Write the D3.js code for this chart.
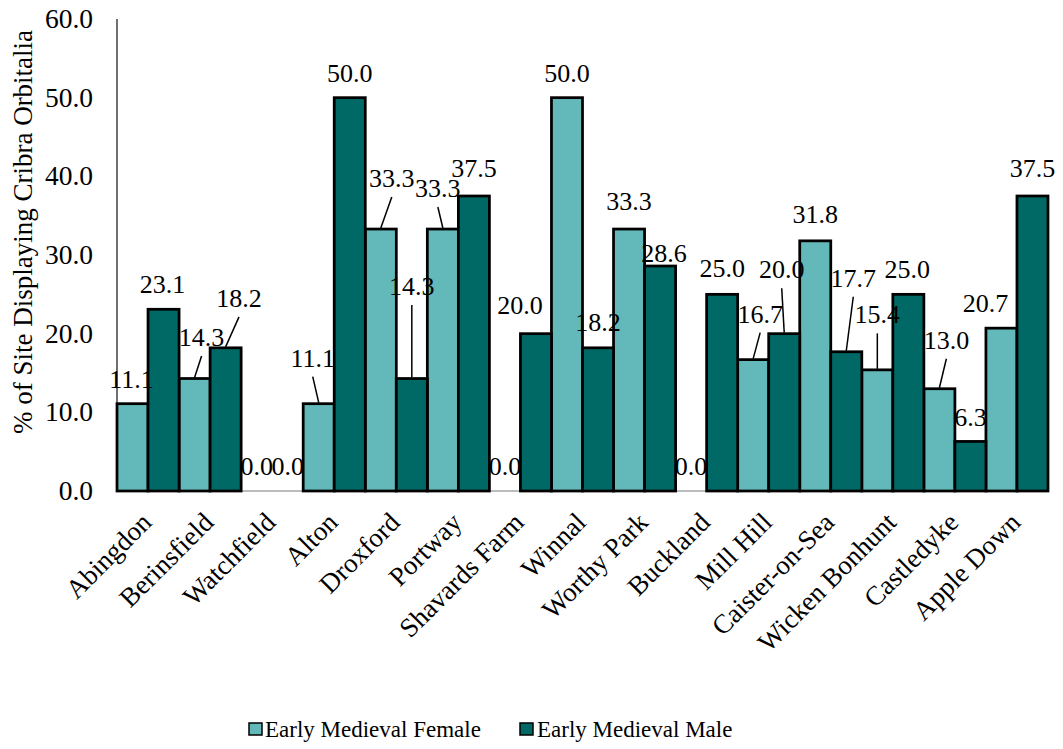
<!DOCTYPE html>
<html>
<head>
<meta charset="utf-8">
<script src="https://cdn.jsdelivr.net/npm/d3@7"></script>
<style>
  html, body { margin: 0; padding: 0; background: #ffffff; }
  svg { display: block; }
  text { font-family: "Liberation Serif", "Times New Roman", serif; fill: #000; }
</style>
</head>
<body>
<svg id="chart" width="1063" height="749" font-family="Liberation Serif, Times New Roman, serif"></svg>
<script>
// ---- data ----
const categories = ["Abingdon", "Berinsfield", "Watchfield", "Alton", "Droxford", "Portway",
  "Shavards Farm", "Winnal", "Worthy Park", "Buckland", "Mill Hill", "Caister-on-Sea",
  "Wicken Bonhunt", "Castledyke", "Apple Down"];
const femaleValues = [11.1, 14.3, 0.0, 11.1, 33.3, 33.3, 0.0, 50.0, 33.3, 0.0, 16.7, 31.8, 15.4, 13.0, 20.7];
const maleValues   = [23.1, 18.2, 0.0, 50.0, 14.3, 37.5, 20.0, 18.2, 28.6, 25.0, 20.0, 17.7, 25.0, 6.3, 37.5];
const seriesNames = ["Early Medieval Female", "Early Medieval Male"];
const yTicks = [0, 10, 20, 30, 40, 50, 60];
const yTitle = "% of Site Displaying Cribra Orbitalia";

// ---- label layout (nudges from default outside-end position, px) ----
const femaleNudge = [[-1,0],[7,-16.5],[0,0],[-6,-21],[11,-26],[-5,-16],[0,0],[0,0],[0,-3],[0,0],[7,-21],[0,-1.5],[0,-30.5],[7,-24],[-16,0]];
const femaleLeader = [0,1,0,1,1,1,0,0,0,0,1,0,1,1,0];
const maleNudge = [[-1,0],[13.4,-25],[0,0],[0,0],[0,-67.5],[0,-3],[-16,-3.7],[0,-1],[4,11.7],[0,-1],[-2.5,-39.4],[7,-49],[-1,0],[0,1],[0,-3]];
const maleLeader = [0,1,0,0,1,0,0,0,0,0,1,1,0,0,0];

const colors = ["#63b8b9", "#006966"];

(function () {
const svg = d3.select("#chart");
const plotLeft = 117, plotRight = 1048, plotTop = 19, plotBottom = 491;

const x = d3.scaleBand().domain(categories).range([plotLeft, plotRight]).paddingInner(0).paddingOuter(0);
const xs = d3.scaleBand().domain(seriesNames).range([0, x.bandwidth()]).padding(0);
const y = d3.scaleLinear().domain([0, 60]).range([plotBottom, plotTop]);

// x baseline (gray)
svg.append("line").attr("x1", plotLeft).attr("x2", plotRight).attr("y1", y(0)).attr("y2", y(0))
  .attr("stroke", "#a6a6a6").attr("stroke-width", 1.5);

// y axis line
svg.append("line").attr("x1", plotLeft).attr("x2", plotLeft).attr("y1", y(60)).attr("y2", y(0))
  .attr("stroke", "#404040").attr("stroke-width", 1.5);

// y tick labels
svg.append("g").selectAll("text").data(yTicks).join("text")
  .attr("x", 93).attr("y", d => y(d)).attr("dy", "0.33em")
  .attr("text-anchor", "end").style("font-size", "27.5px")
  .text(d => d.toFixed(1));

// y title
svg.append("text")
  .attr("transform", `translate(32, 232) rotate(-90)`)
  .attr("text-anchor", "middle").style("font-size", "27px")
  .text(yTitle);

const series = [
  { name: seriesNames[0], values: femaleValues, nudge: femaleNudge, leader: femaleLeader, color: colors[0] },
  { name: seriesNames[1], values: maleValues, nudge: maleNudge, leader: maleLeader, color: colors[1] }
];

// bars
const barG = svg.append("g");
series.forEach(s => {
  barG.append("g").selectAll("rect")
    .data(categories.map((c, i) => ({ c, v: s.values[i] })).filter(d => d.v > 0))
    .join("rect")
    .attr("x", d => x(d.c) + xs(s.name))
    .attr("y", d => y(d.v))
    .attr("width", xs.bandwidth())
    .attr("height", d => y(0) - y(d.v))
    .attr("fill", s.color)
    .attr("stroke", "#000").attr("stroke-width", 2.75);
});

// data labels + leader lines
const labelG = svg.append("g");
series.forEach(s => {
  categories.forEach((c, i) => {
    const v = s.values[i];
    const bx = x(c) + xs(s.name) + xs.bandwidth() / 2;
    const by = y(v);
    const lx = bx + s.nudge[i][0];
    const ly = by - 16 + s.nudge[i][1];
    if (s.leader[i]) {
      labelG.append("line")
        .attr("x1", lx).attr("y1", ly + 10)
        .attr("x2", bx).attr("y2", by - 1)
        .attr("stroke", "#000").attr("stroke-width", 1.5);
    }
    labelG.append("text")
      .attr("x", lx).attr("y", ly)
      .attr("text-anchor", "middle").style("font-size", "26px")
      .text(v.toFixed(1));
  });
});

// category labels
svg.append("g").selectAll("text").data(categories).join("text")
  .attr("transform", d => `translate(${x(d) + x.bandwidth() / 2 + 5}, 524) rotate(-45)`)
  .attr("text-anchor", "end").style("font-size", "27px")
  .text(d => d);

// legend
const legendItems = [
  { name: seriesNames[0], color: colors[0], sx: 249, tx: 265 },
  { name: seriesNames[1], color: colors[1], sx: 520, tx: 537 }
];
const lg = svg.append("g");
legendItems.forEach(it => {
  lg.append("rect").attr("x", it.sx).attr("y", 723).attr("width", 13).attr("height", 12)
    .attr("fill", it.color).attr("stroke", "#000").attr("stroke-width", 1.5);
  lg.append("text").attr("x", it.tx).attr("y", 737).style("font-size", "23px").text(it.name);
});
})();
</script>
</body>
</html>
